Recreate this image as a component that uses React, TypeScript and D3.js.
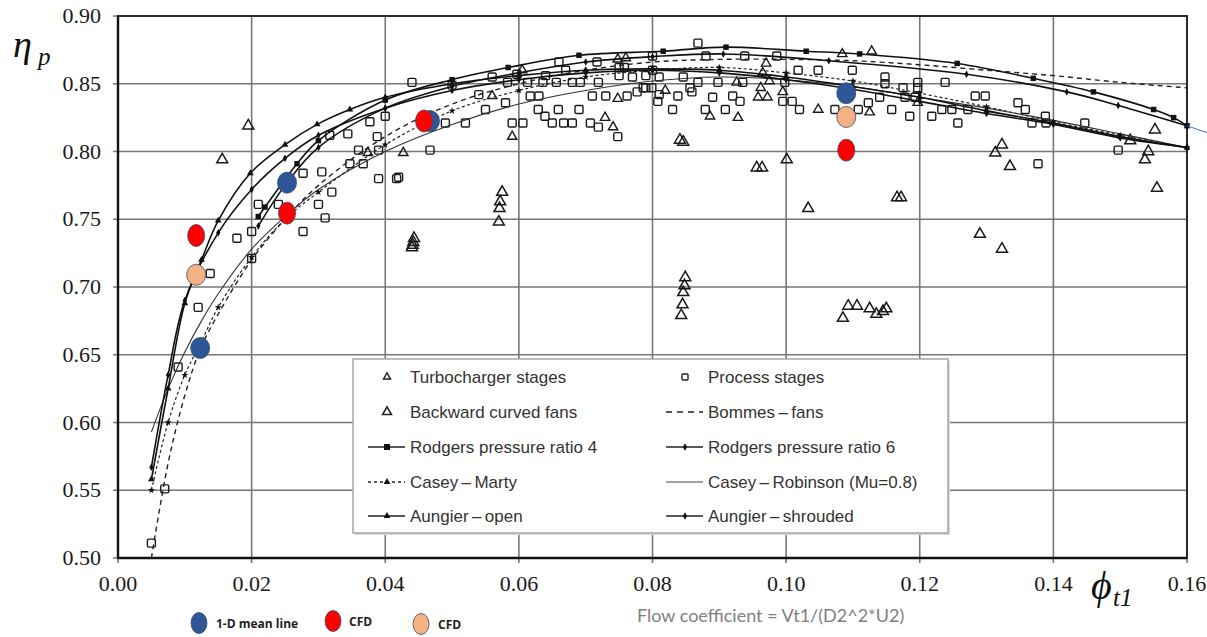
import React from 'react';
import * as d3 from 'd3';

// ---------- data ----------
const xTicks = [0, 0.02, 0.04, 0.06, 0.08, 0.1, 0.12, 0.14, 0.16];
const yTicks = [0.5, 0.55, 0.6, 0.65, 0.7, 0.75, 0.8, 0.85, 0.9];

const rodgersPR4: [number, number][] = [
  [0.021, 0.752], [0.022, 0.759], [0.0268, 0.791], [0.03, 0.808], [0.04, 0.838], [0.05, 0.853],
  [0.0584, 0.862], [0.069, 0.871], [0.0816, 0.874], [0.091, 0.877], [0.103, 0.874], [0.111, 0.872],
  [0.1256, 0.865], [0.137, 0.854], [0.146, 0.844], [0.155, 0.831], [0.158, 0.825], [0.16, 0.819],
];
const rodgersPR6: [number, number][] = [
  [0.021, 0.745], [0.025, 0.775], [0.03, 0.803], [0.04, 0.832], [0.05, 0.848], [0.06, 0.858],
  [0.07, 0.866], [0.08, 0.87], [0.0906, 0.872], [0.1064, 0.867], [0.127, 0.857], [0.142, 0.844],
  [0.1497, 0.834], [0.16, 0.819],
];
const bommesFans: [number, number][] = [
  [0.005, 0.5], [0.0075, 0.57], [0.01, 0.62], [0.0123, 0.654], [0.015, 0.68], [0.02, 0.72],
  [0.025, 0.75], [0.03, 0.775], [0.04, 0.811], [0.05, 0.835], [0.06, 0.85], [0.07, 0.86],
  [0.08, 0.866], [0.09, 0.868], [0.1, 0.868], [0.11, 0.867], [0.12, 0.864], [0.13, 0.86],
  [0.14, 0.856], [0.15, 0.851], [0.16, 0.847],
];
const caseyMarty: [number, number][] = [
  [0.005, 0.55], [0.0075, 0.6], [0.01, 0.635], [0.0125, 0.66], [0.015, 0.685], [0.02, 0.722],
  [0.025, 0.75], [0.03, 0.77], [0.04, 0.805], [0.05, 0.83], [0.06, 0.845], [0.07, 0.855],
  [0.08, 0.86], [0.09, 0.862], [0.1, 0.858], [0.11, 0.852], [0.12, 0.843], [0.13, 0.833],
  [0.14, 0.822], [0.15, 0.812], [0.16, 0.803],
];
const caseyRobinson: [number, number][] = [
  [0.005, 0.593], [0.0075, 0.625], [0.01, 0.652], [0.0125, 0.675], [0.015, 0.695], [0.02, 0.728],
  [0.025, 0.752], [0.03, 0.772], [0.04, 0.8], [0.05, 0.82], [0.06, 0.835], [0.07, 0.845],
  [0.08, 0.852], [0.09, 0.855], [0.1, 0.853], [0.11, 0.848], [0.12, 0.84], [0.13, 0.832],
  [0.14, 0.823], [0.15, 0.813], [0.16, 0.803],
];
const aungierOpen: [number, number][] = [
  [0.005, 0.558], [0.0075, 0.625], [0.01, 0.688], [0.0125, 0.72], [0.015, 0.749], [0.0198, 0.784],
  [0.025, 0.805], [0.0298, 0.82], [0.0347, 0.831], [0.04, 0.84], [0.05, 0.85], [0.06, 0.856],
  [0.07, 0.86], [0.08, 0.861], [0.09, 0.86], [0.1, 0.855], [0.11, 0.848], [0.12, 0.84],
  [0.13, 0.83], [0.14, 0.821], [0.15, 0.811], [0.16, 0.803],
];
const aungierShrouded: [number, number][] = [
  [0.005, 0.567], [0.0075, 0.635], [0.01, 0.69], [0.015, 0.74], [0.02, 0.772], [0.025, 0.795],
  [0.03, 0.812], [0.04, 0.832], [0.05, 0.845], [0.06, 0.853], [0.07, 0.858], [0.08, 0.86],
  [0.09, 0.858], [0.1, 0.853], [0.11, 0.846], [0.12, 0.837], [0.13, 0.828], [0.14, 0.82],
  [0.15, 0.81], [0.16, 0.803],
];

const turboStages: [number, number][] = [
  [0.0374, 0.799], [0.0427, 0.799], [0.059, 0.811], [0.056, 0.841], [0.0605, 0.86], [0.0748, 0.868],
  [0.076, 0.869], [0.0748, 0.839], [0.0729, 0.825], [0.0741, 0.818], [0.097, 0.865], [0.1084, 0.872],
  [0.1128, 0.874], [0.1048, 0.831], [0.1125, 0.829], [0.0886, 0.826], [0.0928, 0.825], [0.0819, 0.845],
  [0.0958, 0.84], [0.0972, 0.84], [0.0995, 0.844], [0.0926, 0.851], [0.1197, 0.836], [0.0965, 0.858],
  [0.0975, 0.852], [0.0962, 0.847],
];
const fans: [number, number][] = [
  [0.0156, 0.794], [0.0195, 0.819], [0.0442, 0.733], [0.044, 0.729], [0.0443, 0.736], [0.0441, 0.731],
  [0.0575, 0.77], [0.0572, 0.763], [0.0571, 0.758], [0.057, 0.748], [0.0849, 0.707], [0.0848, 0.701],
  [0.0846, 0.696], [0.0845, 0.687], [0.0843, 0.679], [0.0841, 0.8085], [0.0846, 0.807], [0.1001, 0.794],
  [0.0956, 0.788], [0.0964, 0.788], [0.1033, 0.758], [0.1166, 0.766], [0.1172, 0.766], [0.1085, 0.677],
  [0.1093, 0.686], [0.1106, 0.686], [0.1125, 0.684], [0.1135, 0.68], [0.1145, 0.682], [0.115, 0.684],
  [0.1552, 0.816], [0.1515, 0.808], [0.1542, 0.8], [0.1537, 0.794], [0.1555, 0.773], [0.1323, 0.805],
  [0.1313, 0.799], [0.1335, 0.789], [0.129, 0.739], [0.1323, 0.728],
];
const processStages: [number, number][] = [
  [0.005, 0.511], [0.007, 0.551], [0.009, 0.641], [0.012, 0.685], [0.0138, 0.71], [0.0178, 0.736],
  [0.02, 0.721], [0.02, 0.741], [0.021, 0.761], [0.024, 0.761], [0.0277, 0.741], [0.031, 0.751],
  [0.03, 0.761], [0.032, 0.77], [0.0277, 0.784], [0.0305, 0.785], [0.0347, 0.791], [0.0367, 0.791],
  [0.039, 0.78], [0.0417, 0.78], [0.036, 0.801], [0.039, 0.801], [0.0344, 0.813], [0.0317, 0.812],
  [0.0388, 0.811], [0.0377, 0.822], [0.04, 0.826],
  [0.044, 0.851], [0.049, 0.821], [0.052, 0.821], [0.0467, 0.801], [0.042, 0.781], [0.055, 0.831],
  [0.058, 0.836], [0.054, 0.842], [0.059, 0.821], [0.0606, 0.821], [0.0617, 0.841], [0.063, 0.841],
  [0.0629, 0.831], [0.0639, 0.826], [0.065, 0.821], [0.0659, 0.831], [0.0667, 0.821], [0.068, 0.821],
  [0.069, 0.831], [0.071, 0.841], [0.073, 0.841], [0.0707, 0.821], [0.0719, 0.818], [0.0748, 0.811],
  [0.0636, 0.851], [0.0656, 0.851], [0.068, 0.851], [0.0692, 0.851], [0.0719, 0.851], [0.075, 0.856],
  [0.0762, 0.841], [0.0777, 0.844], [0.0786, 0.847], [0.064, 0.856], [0.067, 0.86], [0.066, 0.866],
  [0.0717, 0.866], [0.075, 0.862], [0.0758, 0.862], [0.077, 0.855], [0.0583, 0.851], [0.0613, 0.851],
  [0.0597, 0.857], [0.056, 0.855], [0.05, 0.849],
  [0.0868, 0.88], [0.088, 0.8705], [0.08, 0.8705], [0.0938, 0.8705], [0.0986, 0.8705], [0.079, 0.856],
  [0.08, 0.86], [0.081, 0.855], [0.0846, 0.855], [0.0868, 0.851], [0.0898, 0.851], [0.0935, 0.851],
  [0.079, 0.847], [0.0799, 0.847], [0.081, 0.842], [0.0838, 0.841], [0.0856, 0.847], [0.0859, 0.844],
  [0.0808, 0.837], [0.083, 0.831], [0.0879, 0.831], [0.089, 0.84], [0.0909, 0.831], [0.092, 0.841],
  [0.0931, 0.837], [0.0995, 0.837], [0.1009, 0.837], [0.102, 0.831], [0.0998, 0.851], [0.1018, 0.86],
  [0.1048, 0.86], [0.1099, 0.86], [0.1073, 0.831], [0.1108, 0.831], [0.1123, 0.836], [0.1148, 0.855],
  [0.1148, 0.85], [0.1158, 0.831], [0.1175, 0.847], [0.1185, 0.826], [0.114, 0.84],
  [0.1197, 0.851], [0.1197, 0.847], [0.1178, 0.84], [0.1193, 0.84], [0.1238, 0.851], [0.1218, 0.826],
  [0.1233, 0.831], [0.1248, 0.831], [0.1272, 0.831], [0.1257, 0.821], [0.1283, 0.841], [0.1298, 0.841],
  [0.1347, 0.836], [0.1358, 0.831], [0.1368, 0.821], [0.1388, 0.826], [0.1389, 0.821], [0.1447, 0.821],
  [0.1497, 0.801], [0.1377, 0.791],
];

const meanLine1D: [number, number][] = [[0.0123, 0.655], [0.0253, 0.777], [0.0467, 0.8225], [0.109, 0.843]];
const cfdRed: [number, number][] = [[0.0117, 0.738], [0.0253, 0.7545], [0.0458, 0.8225], [0.109, 0.801]];
const cfdOrange: [number, number][] = [[0.0117, 0.709], [0.109, 0.8255]];

const legendLabels = [
  'Turbocharger stages', 'Process stages',
  'Backward curved fans', 'Bommes\u2009\u2013\u2009fans',
  'Rodgers pressure ratio 4', 'Rodgers pressure ratio 6',
  'Casey\u2009\u2013\u2009Marty', 'Casey\u2009\u2013\u2009Robinson (Mu=0.8)',
  'Aungier\u2009\u2013\u2009open', 'Aungier\u2009\u2013\u2009shrouded',
];
const bottomLegendLabels = ['1-D  mean line', 'CFD', 'CFD'];

// ---------- layout ----------
const W = 1207, H = 637;
const PL = 118, PR = 1187, PT = 16, PB = 558;
const BLUE = '#2E5597', RED = '#FF0000', ORANGE = '#F4B183';

const sym = (type: d3.SymbolType, size: number) => d3.symbol().type(type).size(size)() as string;

function Markers({ pts, x, y, type, size, fill = '#111' }: any) {
  const d = sym(type, size);
  return (
    <g>
      {pts.map((p: number[], i: number) => (
        <path key={i} d={d} transform={`translate(${x(p[0])},${y(p[1])})`} fill={fill} />
      ))}
    </g>
  );
}

export default function App() {
  const x = d3.scaleLinear().domain([0, 0.16]).range([PL, PR]);
  const y = d3.scaleLinear().domain([0.5, 0.9]).range([PB, PT]);
  const line = d3.line<[number, number]>().x(d => x(d[0])).y(d => y(d[1])).curve(d3.curveCatmullRom.alpha(0.5));

  const triSmall = sym(d3.symbolTriangle, 38);
  const triBig = sym(d3.symbolTriangle, 52);

  // legend geometry
  const LX = 353, LY = 359, LW = 595, LH = 174;
  const rowY = [377, 412, 447, 482, 516];
  const c1 = 387, c2 = 685, t1 = 410, t2 = 708;

  const legendSym = (idx: number, cx: number, cy: number) => {
    const l0 = cx - 19, l1 = cx + 18;
    switch (idx) {
      case 0: return <path d={sym(d3.symbolTriangle, 22)} transform={`translate(${cx},${cy})`} fill="none" stroke="#222" strokeWidth={1.4} />;
      case 1: return <rect x={cx - 3} y={cy - 3} width={6} height={6} rx={1} fill="none" stroke="#222" strokeWidth={1.4} />;
      case 2: return <path d={sym(d3.symbolTriangle, 34)} transform={`translate(${cx},${cy})`} fill="none" stroke="#222" strokeWidth={1.6} />;
      case 3: return <line x1={l0} x2={l1} y1={cy} y2={cy} stroke="#222" strokeWidth={1.6} strokeDasharray="6,5" />;
      case 4: return <g><line x1={l0} x2={l1} y1={cy} y2={cy} stroke="#222" strokeWidth={1.6} /><rect x={cx - 3} y={cy - 3} width={6} height={6} fill="#111" /></g>;
      case 5: return <g><line x1={l0} x2={l1} y1={cy} y2={cy} stroke="#222" strokeWidth={1.6} /><path d={sym(d3.symbolDiamond, 16)} transform={`translate(${cx},${cy})`} fill="#111" /></g>;
      case 6: return <g><line x1={l0} x2={l1} y1={cy} y2={cy} stroke="#222" strokeWidth={1.4} strokeDasharray="3,3" /><path d={sym(d3.symbolTriangle, 20)} transform={`translate(${cx},${cy})`} fill="#111" /></g>;
      case 7: return <line x1={l0} x2={l1} y1={cy} y2={cy} stroke="#444" strokeWidth={1.2} />;
      case 8: return <g><line x1={l0} x2={l1} y1={cy} y2={cy} stroke="#222" strokeWidth={1.6} /><path d={sym(d3.symbolTriangle, 20)} transform={`translate(${cx},${cy})`} fill="#111" /></g>;
      case 9: return <g><line x1={l0} x2={l1} y1={cy} y2={cy} stroke="#222" strokeWidth={1.6} /><path d={sym(d3.symbolDiamond, 16)} transform={`translate(${cx},${cy})`} fill="#111" /></g>;
    }
    return null;
  };

  const dot = (p: number[], i: number, fill: string, rx: number, ry: number) => (
    <ellipse key={fill + i} cx={x(p[0])} cy={y(p[1])} rx={rx} ry={ry} fill={fill} stroke="#3a4a6a" strokeWidth={0.8} />
  );

  return (
    <div style={{ position: 'absolute', left: 0, top: 0 }}>
      <svg width={W} height={H} style={{ display: 'block', background: '#fff' }}>
        {/* grid */}
        <g stroke="#777" strokeWidth={1.6}>
          {xTicks.map((t, i) => <line key={'gx' + i} x1={x(t)} x2={x(t)} y1={PT} y2={PB + 5} />)}
          {yTicks.map((t, i) => <line key={'gy' + i} x1={PL - 5} x2={PR} y1={y(t)} y2={y(t)} />)}
        </g>
        {/* frame */}
        <rect x={PL} y={PT} width={PR - PL} height={PB - PT} fill="none" stroke="#2a2a2a" strokeWidth={2} />
        <line x1={PL} x2={PL} y1={PT} y2={PB} stroke="#111" strokeWidth={2.4} />
        <line x1={PL} x2={PR} y1={PB} y2={PB} stroke="#111" strokeWidth={2.4} />

        {/* tick labels */}
        <g fontFamily="'Liberation Serif', 'Times New Roman', serif" fontSize={22} fill="#1a1a1a">
          {yTicks.map((t, i) => <text key={'ly' + i} x={101} y={y(t) + 7} textAnchor="end">{t.toFixed(2)}</text>)}
          {xTicks.map((t, i) => <text key={'lx' + i} x={x(t)} y={591} textAnchor="middle">{t.toFixed(2)}</text>)}
        </g>

        {/* scatter: process stages */}
        <g fill="none" stroke="#1a1a1a" strokeWidth={1.4}>
          {processStages.map((p, i) => <rect key={'ps' + i} x={x(p[0]) - 4} y={y(p[1]) - 4} width={8} height={8} rx={1.3} />)}
        </g>
        {/* scatter: turbocharger stages */}
        <g fill="none" stroke="#1a1a1a" strokeWidth={1.4}>
          {turboStages.map((p, i) => <path key={'ts' + i} d={triSmall} transform={`translate(${x(p[0])},${y(p[1])})`} />)}
        </g>
        {/* scatter: backward curved fans */}
        <g fill="none" stroke="#1a1a1a" strokeWidth={1.5}>
          {fans.map((p, i) => <path key={'bf' + i} d={triBig} transform={`translate(${x(p[0])},${y(p[1])})`} />)}
        </g>

        {/* correlation curves */}
        <g fill="none">
          <path d={line(bommesFans) as string} stroke="#222" strokeWidth={1.4} strokeDasharray="5,4" />
          <path d={line(caseyMarty) as string} stroke="#222" strokeWidth={1.2} strokeDasharray="3,2.5" />
          <path d={line(caseyRobinson) as string} stroke="#333" strokeWidth={1.1} />
          <path d={line(aungierOpen) as string} stroke="#111" strokeWidth={1.6} />
          <path d={line(aungierShrouded) as string} stroke="#111" strokeWidth={1.6} />
          <path d={line(rodgersPR4) as string} stroke="#111" strokeWidth={1.6} />
          <path d={line(rodgersPR6) as string} stroke="#111" strokeWidth={1.6} />
        </g>
        <Markers pts={rodgersPR4} x={x} y={y} type={d3.symbolSquare} size={30} />
        <Markers pts={rodgersPR6} x={x} y={y} type={d3.symbolDiamond} size={16} />
        <Markers pts={aungierOpen} x={x} y={y} type={d3.symbolTriangle} size={20} />
        <Markers pts={aungierShrouded} x={x} y={y} type={d3.symbolDiamond} size={16} />
        <Markers pts={caseyMarty} x={x} y={y} type={d3.symbolStar} size={16} />

        {/* stray line beyond right edge */}
        <line x1={PR} y1={y(0.819)} x2={W} y2={y(0.819) + 7} stroke="#4472C4" strokeWidth={1} />

        {/* 1-D and CFD points */}
        {meanLine1D.map((p, i) => dot(p, i, BLUE, 9.5, 10.5))}
        {cfdOrange.map((p, i) => dot(p, i, ORANGE, 9.5, 10.5))}
        {cfdRed.map((p, i) => dot(p, i, RED, 8.5, 11))}

        {/* legend box */}
        <rect x={LX + 2} y={LY + 2} width={LW} height={LH} fill="#d9d9d9" />
        <rect x={LX} y={LY} width={LW} height={LH} fill="#fff" stroke="#a6a6a6" strokeWidth={1.5} />
        <g fontFamily="'Liberation Sans', Arial, sans-serif" fontSize={17} fill="#333">
          {legendLabels.map((lab, i) => {
            const col = i % 2, row = Math.floor(i / 2);
            return (
              <g key={'lg' + i}>
                {legendSym(i, col === 0 ? c1 : c2, rowY[row])}
                <text x={col === 0 ? t1 : t2} y={rowY[row] + 6}>{lab}</text>
              </g>
            );
          })}
        </g>

        {/* axis titles */}
        <text x={13} y={57} fontFamily="'Liberation Serif', 'DejaVu Serif', serif" fontStyle="italic" fontSize={38} fill="#111">η</text>
        <text x={38} y={65} fontFamily="'Liberation Serif', 'DejaVu Serif', serif" fontStyle="italic" fontSize={25} fill="#111">p</text>
        <text x={1091} y={599} fontFamily="'Liberation Serif', 'DejaVu Serif', serif" fontStyle="italic" fontSize={40} fill="#111">ϕ</text>
        <text x={1113} y={606} fontFamily="'Liberation Serif', 'DejaVu Serif', serif" fontStyle="italic" fontSize={25} fill="#111">t1</text>

        <text x={637} y={622} fontFamily="Lato, 'Open Sans', sans-serif" fontSize={18} fill="#7f7f7f">Flow coefficient = Vt1/(D2^2*U2)</text>

        {/* bottom legend */}
        <g fontFamily="'Open Sans', 'Liberation Sans', sans-serif" fontWeight="bold" fontSize={12} fill="#222">
          <ellipse cx={199} cy={623} rx={8} ry={10.5} fill={BLUE} stroke="#3a4a6a" strokeWidth={0.8} />
          <text x={216} y={628}>{bottomLegendLabels[0]}</text>
          <ellipse cx={333} cy={621} rx={8} ry={10.5} fill={RED} stroke="#3a4a6a" strokeWidth={0.8} />
          <text x={349} y={626}>{bottomLegendLabels[1]}</text>
          <ellipse cx={421} cy={624} rx={8} ry={10.5} fill={ORANGE} stroke="#3a4a6a" strokeWidth={0.8} />
          <text x={438} y={629}>{bottomLegendLabels[2]}</text>
        </g>
      </svg>
    </div>
  );
}
